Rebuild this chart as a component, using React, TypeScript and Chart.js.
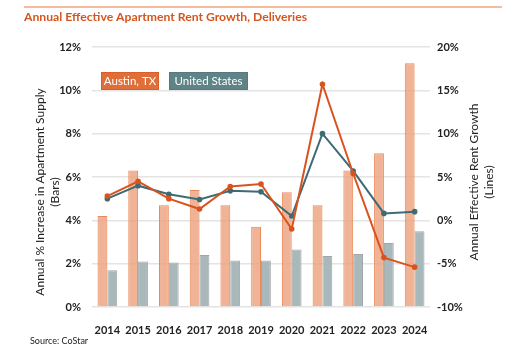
import React, { useEffect, useRef } from "react";
import { Chart, registerables } from "chart.js";

Chart.register(...registerables);

const years = ["2014", "2015", "2016", "2017", "2018", "2019", "2020", "2021", "2022", "2023", "2024"];
const austinSupply = [4.2, 6.3, 4.7, 5.4, 4.7, 3.7, 5.3, 4.7, 6.3, 7.1, 11.25];
const usSupply = [1.7, 2.1, 2.05, 2.4, 2.15, 2.15, 2.65, 2.35, 2.45, 2.95, 3.5];
const austinRent = [2.8, 4.5, 2.5, 1.3, 3.9, 4.2, -1.0, 15.7, 5.4, -4.3, -5.4];
const usRent = [2.5, 4.0, 3.0, 2.4, 3.4, 3.3, 0.5, 10.0, 5.7, 0.8, 1.0];
const leftTicks = [0, 2, 4, 6, 8, 10, 12];
const rightTicks = [-10, -5, 0, 5, 10, 15, 20];

const FONT = "Lato, 'Open Sans', sans-serif";

const decorPlugin = {
  id: "decor",
  afterDraw(chart: any) {
    const ctx = chart.ctx as CanvasRenderingContext2D;
    ctx.save();
    ctx.strokeStyle = "#f0a67e";
    ctx.lineWidth = 1.5;
    ctx.beginPath();
    ctx.moveTo(24, 7);
    ctx.lineTo(502, 7);
    ctx.stroke();
    ctx.fillStyle = "#d4561f";
    ctx.font = `bold 12.2px ${FONT}`;
    ctx.textAlign = "left";
    ctx.textBaseline = "middle";
    ctx.fillText("Annual Effective Apartment Rent Growth, Deliveries", 24, 17);
    ctx.fillStyle = "#222";
    ctx.font = `9px ${FONT}`;
    ctx.fillText("Source: CoStar", 30, 341);
    ctx.font = `12px ${FONT}`;
    ctx.fillStyle = "#222";
    ctx.textAlign = "center";
    const rot = (x: number, y: number, t: string) => {
      ctx.save();
      ctx.translate(x, y);
      ctx.rotate(-Math.PI / 2);
      ctx.fillText(t, 0, 0);
      ctx.restore();
    };
    rot(40, 192, "Annual % Increase in Apartment Supply");
    rot(55, 192, "(Bars)");
    rot(474, 182, "Annual Effective Rent Growth");
    rot(489, 182, "(Lines)");
    const box = (x: number, w: number, fill: string, stroke: string, t: string) => {
      ctx.fillStyle = fill;
      ctx.fillRect(x, 72, w, 18);
      ctx.strokeStyle = stroke;
      ctx.lineWidth = 1;
      ctx.strokeRect(x + 0.5, 72.5, w - 1, 17);
      ctx.fillStyle = "#ffffff";
      ctx.font = `11.5px ${FONT}`;
      ctx.textAlign = "center";
      ctx.fillText(t, x + w / 2, 81.5);
    };
    box(101, 58, "#e06e38", "#d9602a", "Austin, TX");
    box(169, 79, "#5f8386", "#557a7d", "United States");
    ctx.restore();
  },
};

export default function App() {
  const ref = useRef<HTMLCanvasElement | null>(null);
  useEffect(() => {
    if (!ref.current) return;
    const chart = new Chart(ref.current, {
      type: "bar",
      data: {
        labels: years,
        datasets: [
          {
            type: "line",
            label: "Austin, TX rent growth",
            data: austinRent,
            yAxisID: "y1",
            borderColor: "#d9531e",
            backgroundColor: "#d9531e",
            borderWidth: 2,
            pointRadius: 1.8,
            tension: 0,
            order: 0,
          } as any,
          {
            type: "line",
            label: "United States rent growth",
            data: usRent,
            yAxisID: "y1",
            borderColor: "#3e6b73",
            backgroundColor: "#3e6b73",
            borderWidth: 2,
            pointRadius: 1.8,
            tension: 0,
            order: 1,
          } as any,
          {
            type: "bar",
            label: "Austin, TX supply",
            data: austinSupply,
            yAxisID: "y",
            backgroundColor: "rgba(238,160,124,0.8)",
            borderColor: "#e98a5c",
            borderWidth: 1,
            categoryPercentage: 0.64,
            barPercentage: 1.0,
            order: 2,
          },
          {
            type: "bar",
            label: "United States supply",
            data: usSupply,
            yAxisID: "y",
            backgroundColor: "#a9b8ba",
            borderColor: "#a2a6a7",
            borderWidth: 1,
            categoryPercentage: 0.64,
            barPercentage: 1.0,
            order: 3,
          },
        ],
      },
      options: {
        animation: false,
        responsive: false,
        maintainAspectRatio: false,
        devicePixelRatio: 1,
        layout: { padding: { top: 47, left: 0, right: 0, bottom: 0 } },
        plugins: { legend: { display: false }, tooltip: { enabled: false }, title: { display: false } },
        scales: {
          x: {
            grid: { display: false },
            border: { display: false },
            ticks: { color: "#222", font: { family: FONT, size: 11, weight: "bold" }, padding: 9, maxRotation: 0, minRotation: 0, autoSkip: false },
            afterFit: (s: any) => { s.height = 48; },
          },
          y: {
            position: "left",
            min: 0,
            max: 12,
            afterBuildTicks: (s: any) => { s.ticks = leftTicks.map((v) => ({ value: v })); },
            ticks: { color: "#222", font: { family: FONT, size: 11, weight: "bold" }, padding: 11, callback: (v: any) => v + "%" },
            grid: { color: "#e4e4e4", lineWidth: 1.5, drawTicks: false },
            border: { display: false },
            afterFit: (s: any) => { s.width = 92; },
          },
          y1: {
            position: "right",
            min: -10,
            max: 20,
            afterBuildTicks: (s: any) => { s.ticks = rightTicks.map((v) => ({ value: v })); },
            ticks: { color: "#222", font: { family: FONT, size: 11, weight: "bold" }, padding: 7, callback: (v: any) => v + "%" },
            grid: { display: false, drawTicks: false },
            border: { display: false },
            afterFit: (s: any) => { s.width = 86; },
          },
        },
      },
      plugins: [decorPlugin],
    } as any);
    return () => chart.destroy();
  }, []);
  return (
    <div style={{ position: "fixed", left: 0, top: 0, width: 516, height: 355, background: "#fff" }}>
      <canvas ref={ref} width={516} height={355} style={{ width: 516, height: 355, display: "block" }} />
    </div>
  );
}
